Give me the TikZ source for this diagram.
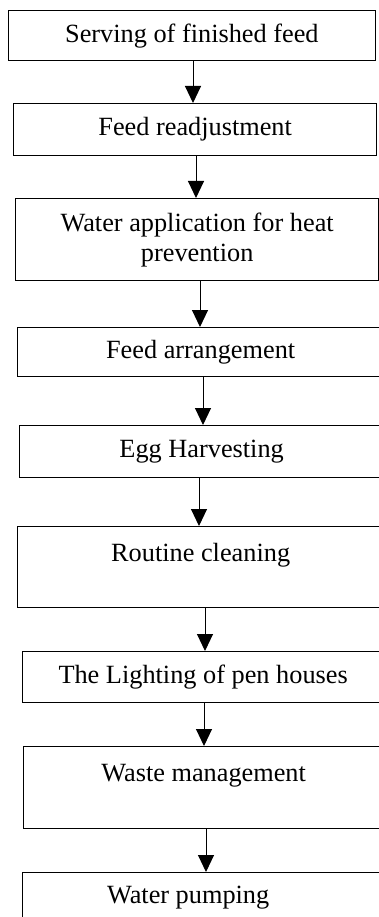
\documentclass[tikz,border=0pt]{standalone}
\usepackage{fontspec}
\setmainfont{Liberation Serif}
\usetikzlibrary{arrows.meta}

\begin{document}
\begin{tikzpicture}[x=1pt,y=-1pt,
        stepbox/.style={draw,line width=1.3pt,anchor=north west,inner sep=0pt,align=center,
            font=\fontsize{26.3}{30}\selectfont},
        flowarrow/.style={line width=1pt,-{Triangle[length=17pt,width=16pt]}}]
        \useasboundingbox (0,0) rectangle (379,917);
        \node[stepbox,minimum width=366.5pt,minimum height=50pt] (serving) at (8,10) {Serving of finished feed};
        \node[stepbox,minimum width=363pt,minimum height=52pt] (readjust) at (13,103) {Feed readjustment};
        \node[stepbox,minimum width=363pt,minimum height=82pt] (heat) at (15,198) {Water application for heat\\prevention};
        \node[stepbox,minimum width=366pt,minimum height=49pt] (arrange) at (17,327) {Feed arrangement};
        \node[stepbox,minimum width=364pt,minimum height=52pt] (egg) at (19,425) {Egg Harvesting};
        \node[stepbox,minimum width=366pt,minimum height=81pt] (cleaning) at (17,526) {Routine cleaning\\~};
        \node[stepbox,minimum width=361pt,minimum height=51pt] (lighting) at (22,651) {The Lighting of pen houses};
        \node[stepbox,minimum width=360pt,minimum height=82pt] (waste) at (23,746) {Waste management\\~};
        \node[stepbox,minimum width=361pt,minimum height=50pt] (pumping) at (22,872) {\hspace*{-30pt}Water pumping};
        \foreach \a/\b/\x in {serving/readjust/193, readjust/heat/196, heat/arrange/200, arrange/egg/203,
                egg/cleaning/199, cleaning/lighting/205, lighting/waste/204, waste/pumping/206}
            \draw[flowarrow] (\a.south -| \x,0) -- (\b.north -| \x,0);
    \end{tikzpicture}
\end{document}
